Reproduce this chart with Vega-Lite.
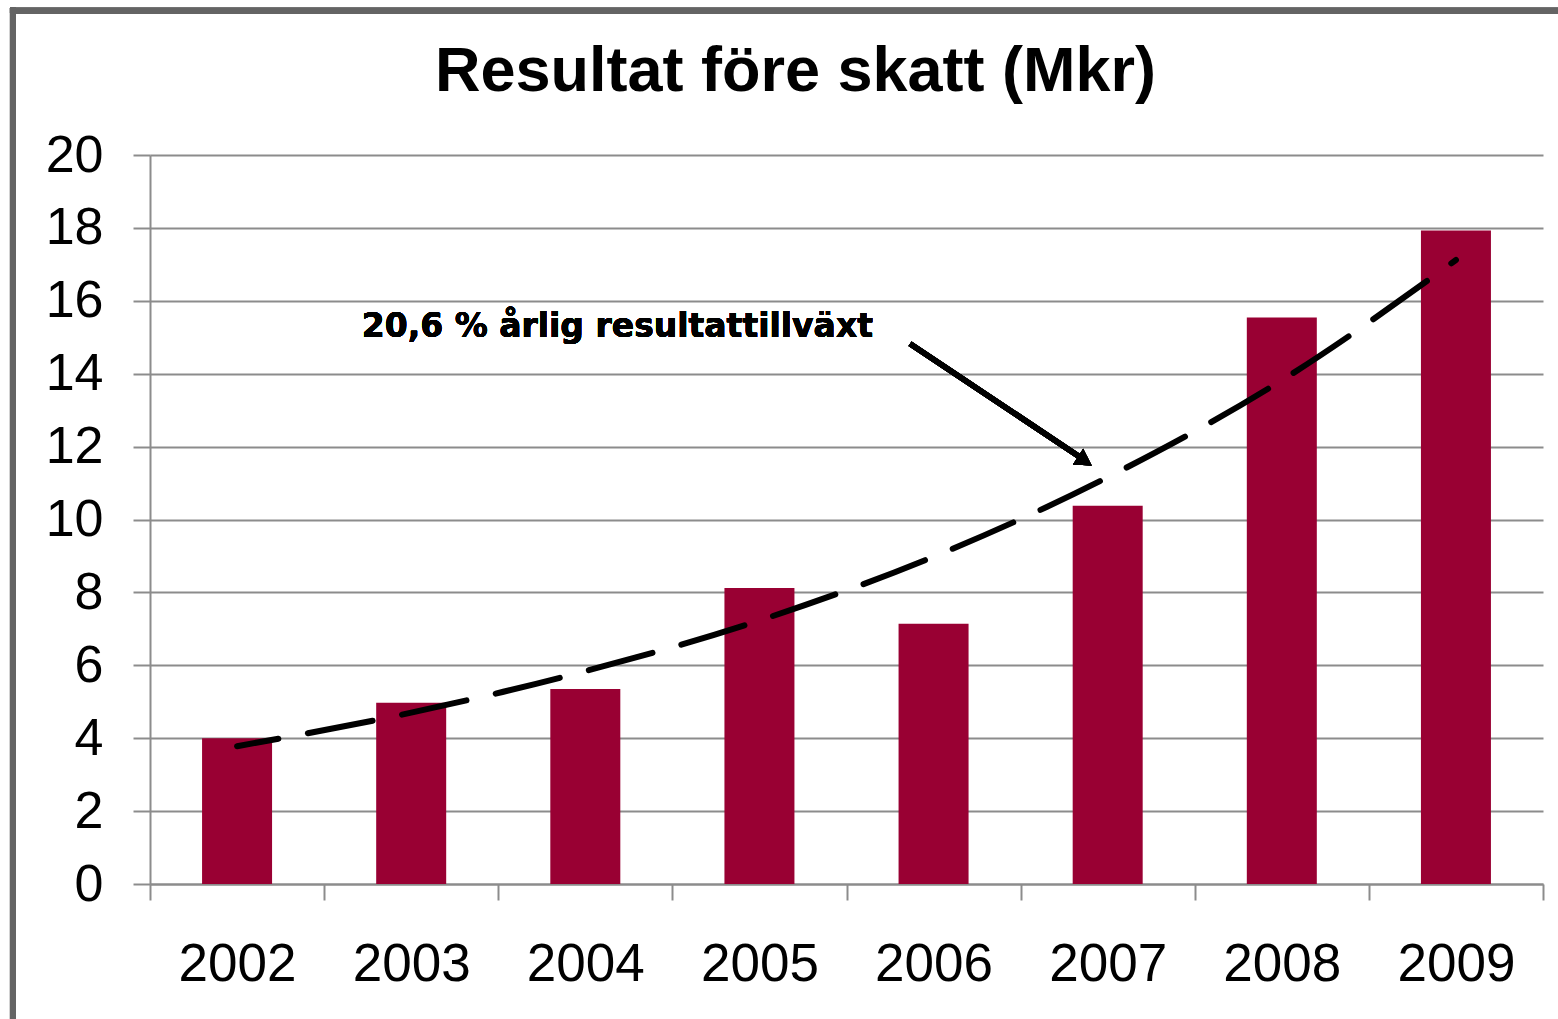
{
  "$schema": "https://vega.github.io/schema/vega-lite/v6.json",
  "width": 1393,
  "height": 729,
  "autosize": {"type": "none"},
  "padding": {"left": 150, "top": 155, "right": 15, "bottom": 135},
  "background": "white",
  "config": {"view": {"stroke": null}, "font": "Liberation Sans"},
  "title": {
    "text": "Resultat före skatt (Mkr)",
    "font": "Liberation Sans",
    "fontSize": 63,
    "fontWeight": "bold",
    "color": "black",
    "anchor": "middle",
    "frame": "group",
    "dx": -51,
    "baseline": "alphabetic",
    "offset": -148
  },
  "data": {
    "values": [
      {"year": 2002, "resultat": 4.0, "trend": 3.78},
      {"year": 2003, "resultat": 4.97, "trend": 4.70},
      {"year": 2004, "resultat": 5.35, "trend": 5.84},
      {"year": 2005, "resultat": 8.12, "trend": 7.23},
      {"year": 2006, "resultat": 7.14, "trend": 8.98},
      {"year": 2007, "resultat": 10.38, "trend": 11.16},
      {"year": 2008, "resultat": 15.54, "trend": 13.82},
      {"year": 2009, "resultat": 17.93, "trend": 17.12}
    ]
  },
  "layer": [
    {
      "mark": {"type": "bar", "color": "#990033", "width": 70},
      "encoding": {
        "x": {
          "field": "year",
          "type": "quantitative",
          "scale": {"domain": [2001.5, 2009.5], "nice": false, "zero": false, "padding": 0},
          "axis": {
            "title": null,
            "values": [2001.5, 2002, 2002.5, 2003, 2003.5, 2004, 2004.5, 2005, 2005.5, 2006, 2006.5, 2007, 2007.5, 2008, 2008.5, 2009, 2009.5],
            "labelExpr": "datum.value % 1 === 0 ? format(datum.value, 'd') : ''",
            "tickOpacity": {"condition": {"test": "datum.value % 1 !== 0", "value": 1}, "value": 0},
            "tickSize": 16,
            "tickColor": "#8c8c8c",
            "tickWidth": 2,
            "domainColor": "#8c8c8c",
            "domainWidth": 2,
            "grid": false,
            "labelFont": "Liberation Sans",
            "labelFontSize": 53,
            "labelColor": "black",
            "labelPadding": 38,
            "labelOverlap": false,
            "labelFlush": false,
            "labelBound": false
          }
        },
        "y": {
          "field": "resultat",
          "type": "quantitative",
          "scale": {"domain": [0, 20], "nice": false},
          "axis": {
            "title": null,
            "values": [0, 2, 4, 6, 8, 10, 12, 14, 16, 18, 20],
            "grid": true,
            "gridColor": "#8c8c8c",
            "gridWidth": 2,
            "tickSize": 17,
            "tickColor": "#8c8c8c",
            "tickWidth": 2,
            "domainColor": "#8c8c8c",
            "domainWidth": 2,
            "labelFont": "Liberation Sans",
            "labelFontSize": 52,
            "labelColor": "black",
            "labelPadding": 30,
            "labelFlush": false,
            "labelOverlap": false
          }
        }
      }
    },
    {
      "mark": {"type": "line", "color": "black", "strokeWidth": 6, "strokeDash": [66, 30], "strokeDashOffset": 24, "strokeCap": "round", "interpolate": "monotone"},
      "encoding": {
        "x": {"field": "year", "type": "quantitative"},
        "y": {"field": "trend", "type": "quantitative", "axis": {"title": null}}
      }
    },
    {
      "mark": {"type": "rule", "color": "black", "strokeWidth": 5.5},
      "encoding": {
        "x": {"datum": 2005.865},
        "y": {"datum": 14.82},
        "x2": {"datum": 2006.87},
        "y2": {"datum": 11.62}
      }
    },
    {
      "mark": {"type": "point", "shape": "triangle-right", "filled": true, "color": "black", "opacity": 1, "size": 350, "angle": 33},
      "encoding": {
        "x": {"datum": 2006.869},
        "y": {"datum": 11.605}
      }
    },
    {
      "mark": {"type": "text", "font": "DejaVu Sans", "fontWeight": "bold", "fontSize": 33, "align": "left", "baseline": "alphabetic", "color": "black"},
      "encoding": {
        "x": {"datum": 2002.716},
        "y": {"datum": 15.015},
        "text": {"value": "20,6 % årlig resultattillväxt"}
      }
    },
    {
      "mark": {"type": "rule", "color": "#646464", "strokeWidth": 6, "strokeCap": "square"},
      "encoding": {
        "x": {"datum": 2000.713},
        "y": {"datum": 23.96},
        "y2": {"datum": -4.0}
      }
    },
    {
      "mark": {"type": "rule", "color": "#646464", "strokeWidth": 6, "strokeCap": "square"},
      "encoding": {
        "x": {"datum": 2000.713},
        "x2": {"datum": 2009.655},
        "y": {"datum": 23.96}
      }
    }
  ]
}
